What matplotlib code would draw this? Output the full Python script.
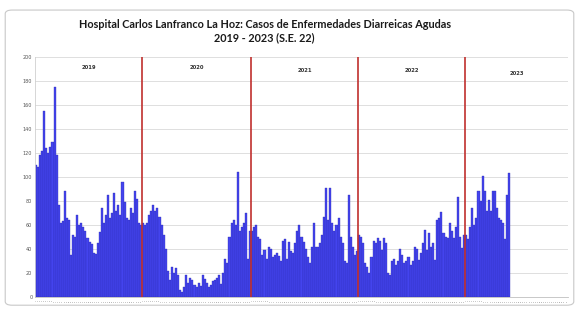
import matplotlib
matplotlib.use("Agg")
import matplotlib.pyplot as plt
from matplotlib.patches import FancyBboxPatch
import numpy as np

title = "Hospital Carlos Lanfranco La Hoz: Casos de Enfermedades Diarreicas Agudas\n2019 - 2023 (S.E. 22)"
years = ["2019", "2020", "2021", "2022", "2023"]
weeks_per_year = [52, 53, 52, 52, 50]

cases_2019 = [110, 108, 118, 122, 155, 124, 120, 125, 129, 175, 118, 77, 62, 63, 88, 66, 64, 35, 52, 50,
              68, 60, 62, 58, 55, 49, 46, 44, 37, 36, 45, 54, 74, 62, 68, 85, 66, 70, 87, 72,
              77, 68, 96, 79, 66, 64, 74, 70, 88, 82, 62, 60]
cases_2020 = [62, 60, 62, 68, 72, 77, 72, 74, 67, 60, 52, 40, 22, 14, 25, 20, 24, 18, 6, 4,
              8, 18, 12, 16, 14, 10, 8, 12, 9, 18, 15, 12, 8, 10, 13, 14, 16, 18, 11, 20,
              32, 28, 50, 62, 64, 60, 104, 55, 58, 62, 70, 32, 55]
cases_2021 = [55, 58, 60, 50, 48, 35, 39, 32, 42, 40, 33, 35, 37, 34, 30, 47, 48, 32, 46, 38,
              37, 45, 55, 60, 50, 46, 40, 33, 28, 42, 62, 42, 42, 45, 52, 67, 91, 64, 91, 62,
              55, 60, 66, 50, 45, 30, 28, 85, 50, 42, 35, 38]
cases_2022 = [52, 50, 45, 28, 25, 20, 33, 47, 45, 49, 47, 39, 49, 45, 20, 18, 30, 32, 27, 30,
              40, 35, 28, 30, 33, 27, 30, 42, 40, 31, 37, 45, 56, 39, 53, 42, 45, 31, 64, 66,
              71, 53, 50, 49, 62, 55, 49, 58, 83, 50, 41, 52]
cases_2023 = [52, 48, 58, 74, 60, 66, 88, 80, 101, 88, 72, 81, 72, 88, 88, 74, 66, 64, 62, 48,
              85, 103]
y_ticks = [0, 20, 40, 60, 80, 100, 120, 140, 160, 180, 200]

series = [cases_2019, cases_2020, cases_2021, cases_2022, cases_2023]

values = []
labels = []
for n, s in zip(weeks_per_year, series):
    vals = list(s) + [np.nan] * (n - len(s))
    values += vals
    labels += [str(i + 1) for i in range(n)]
x = np.arange(len(values))

fig = plt.figure(figsize=(5.79, 3.14), dpi=100)
fig.patch.set_facecolor("white")
border = FancyBboxPatch((0.009, 0.028), 0.982, 0.94, boxstyle="round,pad=0,rounding_size=0.012",
                        transform=fig.transFigure, facecolor="none", edgecolor="#c8c8c8",
                        linewidth=0.8, zorder=-1)
fig.patches.append(border)

ax = fig.add_axes([0.0605, 0.054, 0.9205, 0.7645])
ax.set_facecolor("none")
ax.bar(x, values, width=1.0, color="#4444EE", edgecolor="#2a2ab0", linewidth=0.25, zorder=2)

ax.set_xlim(-0.5, len(values) - 0.5)
ax.set_ylim(0, 200)
ax.set_yticks(y_ticks)
ax.set_yticklabels([str(v) for v in y_ticks], fontsize=3.5, color="#555555")
ax.set_xticks(x)
ax.set_xticklabels(labels, fontsize=1.2, rotation=90, color="#666666")
ax.tick_params(axis="both", length=0, pad=2)
ax.grid(axis="y", color="#d9d9d9", linewidth=0.6, zorder=0)
for sp in ["top", "right"]:
    ax.spines[sp].set_visible(False)
ax.spines["left"].set_color("#d0d0d0")
ax.spines["bottom"].set_color("#bfbfbf")
ax.spines["left"].set_linewidth(0.6)
ax.spines["bottom"].set_linewidth(0.6)

bounds = np.cumsum(weeks_per_year)
for b in bounds[:-1]:
    ax.axvline(b - 0.5, color="#C0302E", linewidth=1.2, zorder=3)

starts = np.concatenate([[0], bounds[:-1]])
label_y = [191, 191, 189, 189, 186]
for yr, s, n, ly in zip(years, starts, weeks_per_year, label_y):
    ax.text(s + n / 2 - 0.5, ly, yr, fontsize=3.8, fontweight="bold", ha="center", va="center",
            color="#333333", zorder=4)

fig.text(0.457, 0.9, title, ha="center", va="center", fontsize=7.8, fontweight="bold",
         family="Lato", color="#1a1a1a", linespacing=1.25)

fig.savefig("out.png", dpi=100)
